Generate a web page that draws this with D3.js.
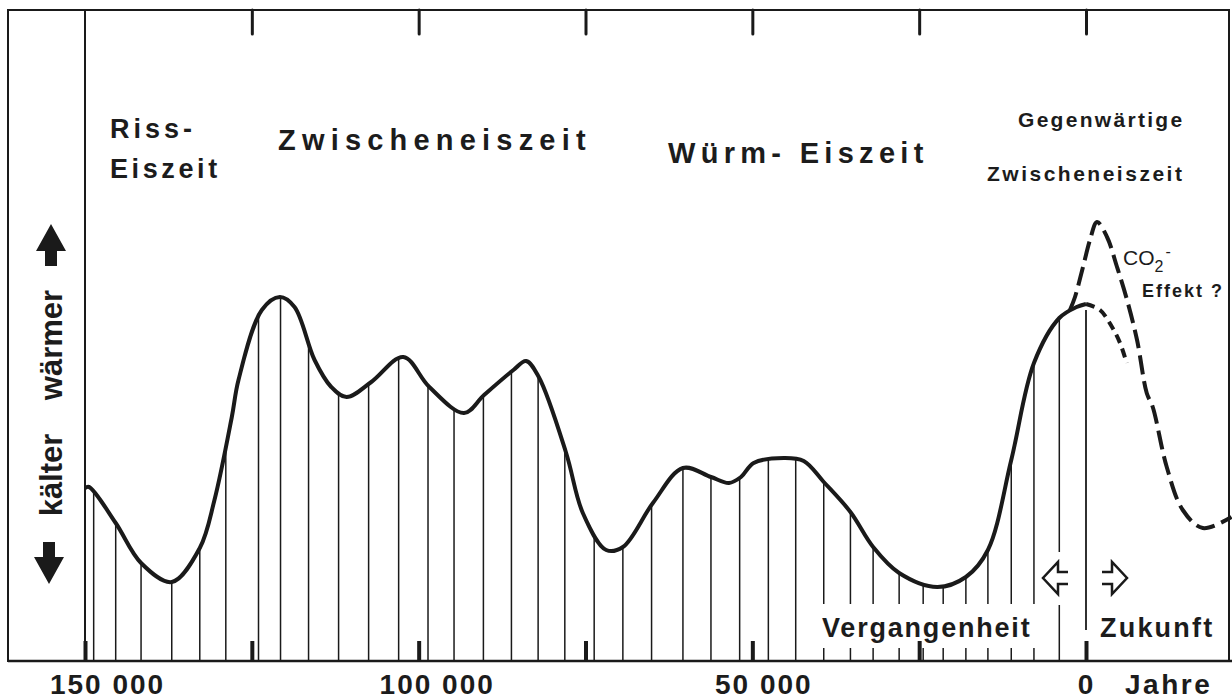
<!DOCTYPE html>
<html>
<head>
<meta charset="utf-8">
<script src="https://cdn.jsdelivr.net/npm/d3@7"></script>
<style>
  body { margin: 0; background: #fff; }
  svg { display: block; font-family: "Liberation Sans", Arial, sans-serif; }
  text { fill: #1c1c1c; }
</style>
</head>
<body>
<div id="chart"></div>
<script>
// Temperature curve: years before present, relative warmth (0-100)
var pastYears = [150000, 149400, 145400, 141600, 137000, 132800, 130600, 128000, 127000, 123500,
  120800, 118600, 115600, 113100, 110800, 107100, 102300, 98400, 93200, 90200,
  85800, 83900, 82000, 77900, 75400, 71900, 69400, 64900, 60400, 56200,
  53500, 51700, 49800, 45300, 42300, 39300, 35300, 31900, 28000, 22300,
  18000, 14700, 11200, 7800, 4000, 1400, 0];
var pastTemp = [34.4, 34.6, 27.4, 19.4, 15.6, 22.4, 32, 48.6, 56, 70,
  72.6, 70.6, 60, 54.6, 52.6, 55.6, 60.6, 54.6, 49.4, 53,
  58, 59.8, 56.6, 41.4, 29.4, 22, 22.6, 31.4, 38.4, 36.6,
  35.4, 36.6, 39.4, 40.4, 39.8, 35.6, 29.6, 22.6, 17.4, 14.6,
  16.6, 22, 40, 59.4, 68.4, 70.6, 71.2];

// future (negative years): natural trend (short dashes) and CO2 effect (long dashes)
var naturalYears = [0, -2100, -3900, -5100, -6100];
var naturalTemp = [71.2, 70, 66.6, 63.4, 59.4];
var co2Years = [2400, 1650, 450, -600, -1650, -3150, -4650, -6150, -7650, -9100,
  -10000, -12100, -14500, -17500, -21800];
var co2Temp = [70, 72.6, 78.6, 84, 87.6, 84.6, 78.6, 72, 64, 53.4,
  50.6, 38.6, 30, 26.4, 28.6];

// vertical hatching under the curve
var hatchYears = [148700, 145400, 141600, 137000, 132800, 128900, 124000, 120700, 116500, 112000,
  107500, 103000, 98600, 94700, 90300, 86100, 82100, 78100, 73700, 69400,
  65100, 60400, 56200, 51900, 47600, 43500, 39300, 35300, 31900, 28000,
  24400, 21400, 18000, 14700, 11200, 7800, 4000];

var majorTickYears = [150000, 125000, 100000, 75000, 50000, 25000, 0];
var topTickYears = [125000, 100000, 75000, 50000, 25000, 0];
var labelYears = [150000, 100000, 50000, 0];
var labelTexts = ["150 000", "100 000", "50 000", "0"];

var width = 1232, height = 700;
var frame = { left: 8, top: 10, right: 1229, bottom: 661 };
var ink = "#1a1a1a";

var x = d3.scaleLinear().domain([150000, 0]).range([85, 1086]);
var y = d3.scaleLinear().domain([0, 100]).range([660, 160]);

var svg = d3.select("#chart").append("svg")
  .attr("width", width)
  .attr("height", height);

function zip(xs, ys) {
  return xs.map(function(d, i) { return [d, ys[i]]; });
}

var line = d3.line()
  .x(function(d) { return x(d[0]); })
  .y(function(d) { return y(d[1]); })
  .curve(d3.curveCatmullRom.alpha(0.5));

// layers, bottom to top
var hatchG = svg.append("g");
var maskG = svg.append("g");
var frameG = svg.append("g");
var curveG = svg.append("g");
var textG = svg.append("g");

/** curves **/

var solid = curveG.append("path")
  .attr("d", line(zip(pastYears, pastTemp)))
  .attr("fill", "none")
  .attr("stroke", ink)
  .attr("stroke-width", 4)
  .attr("stroke-linejoin", "round");

curveG.append("path")
  .attr("d", line(zip(naturalYears, naturalTemp)))
  .attr("fill", "none")
  .attr("stroke", ink)
  .attr("stroke-width", 4)
  .attr("stroke-dasharray", "9,6");

curveG.append("path")
  .attr("d", line(zip(co2Years, co2Temp)))
  .attr("fill", "none")
  .attr("stroke", ink)
  .attr("stroke-width", 4)
  .attr("stroke-dasharray", "19,7");

// sample the solid curve so the hatching stops right on it
var node = solid.node();
var total = node.getTotalLength();
var samples = d3.range(0, total, 0.5).map(function(l) { return node.getPointAtLength(l); });
function curveYAt(px) {
  return d3.least(samples, function(p) { return Math.abs(p.x - px); }).y;
}

/** hatching **/

hatchG.selectAll("line.hatch")
  .data(hatchYears)
  .join("line")
  .attr("class", "hatch")
  .attr("x1", function(d) { return x(d); })
  .attr("x2", function(d) { return x(d); })
  .attr("y1", function(d) { return curveYAt(x(d)); })
  .attr("y2", frame.bottom)
  .attr("stroke", ink)
  .attr("stroke-width", 1.5);

// the "now" line, broken just above the axis
hatchG.append("line")
  .attr("x1", x(0)).attr("x2", x(0))
  .attr("y1", curveYAt(x(0)) + 6)
  .attr("y2", 630)
  .attr("stroke", ink)
  .attr("stroke-width", 1.8);

// white gaps behind the "Vergangenheit" label and the left arrow
maskG.append("rect")
  .attr("x", 814).attr("y", 604)
  .attr("width", 232).attr("height", 44)
  .attr("fill", "#fff");
maskG.append("rect")
  .attr("x", x(4000) - 5).attr("y", 552)
  .attr("width", 10).attr("height", 53)
  .attr("fill", "#fff");

/** frame and axes **/

frameG.append("rect")
  .attr("x", frame.left).attr("y", frame.top)
  .attr("width", frame.right - frame.left)
  .attr("height", frame.bottom - frame.top)
  .attr("fill", "none")
  .attr("stroke", ink)
  .attr("stroke-width", 2);

frameG.append("line")
  .attr("x1", x(150000)).attr("x2", x(150000))
  .attr("y1", frame.top).attr("y2", frame.bottom)
  .attr("stroke", ink)
  .attr("stroke-width", 2);

frameG.append("line")
  .attr("x1", frame.left).attr("x2", width)
  .attr("y1", frame.bottom).attr("y2", frame.bottom)
  .attr("stroke", ink)
  .attr("stroke-width", 2.5);

var bottomAxis = d3.axisBottom(x)
  .tickValues(majorTickYears)
  .tickSizeInner(-20)
  .tickSizeOuter(0)
  .tickPadding(13)
  .tickFormat(function(d) {
    var i = labelYears.indexOf(d);
    return i < 0 ? "" : labelTexts[i];
  });

// the printed labels sit a little right of their ticks
var labelShift = { 150000: 22, 100000: 18, 50000: 11, 0: 0 };

var axisG = frameG.append("g")
  .attr("transform", "translate(0," + frame.bottom + ")")
  .call(bottomAxis);
axisG.select(".domain").remove();
axisG.selectAll(".tick line")
  .attr("stroke", ink)
  .attr("stroke-width", 4);
axisG.selectAll(".tick text")
  .attr("fill", ink)
  .attr("dx", function(d) { return labelShift[d] || 0; })
  .style("font-family", '"Liberation Sans", Arial, sans-serif')
  .style("font-size", "28px")
  .style("font-weight", "bold")
  .style("letter-spacing", "2px");

var topAxis = d3.axisBottom(x)
  .tickValues(topTickYears)
  .tickSizeInner(24)
  .tickSizeOuter(0)
  .tickFormat("");
var topG = frameG.append("g")
  .attr("transform", "translate(0," + frame.top + ")")
  .call(topAxis);
topG.select(".domain").remove();
topG.selectAll(".tick line")
  .attr("stroke", ink)
  .attr("stroke-width", 3)
  .attr("stroke-linecap", "round");

/** labels **/

function addText(str, px, py, size, spacing, weight) {
  return textG.append("text")
    .attr("x", px)
    .attr("y", py)
    .style("font-size", size + "px")
    .style("letter-spacing", spacing + "px")
    .style("font-weight", weight || "bold")
    .text(str);
}

addText("Riss-", 110, 138, 27, 4);
addText("Eiszeit", 110, 178, 27, 3.6);
addText("Zwischeneiszeit", 278, 150, 29, 6.2);
addText("Würm- Eiszeit", 668, 163, 29, 5.3);
addText("Gegenwärtige", 1018, 127, 21, 2.3);
addText("Zwischeneiszeit", 987, 181, 21, 2.5);
addText("Vergangenheit", 822, 637, 27, 1.8);
addText("Zukunft", 1100, 637, 27, 2.2);
addText("Jahre", 1125, 694, 28, 2.5);
addText("Effekt ?", 1142, 297, 18, 2);

var co2 = textG.append("text")
  .attr("x", 1123)
  .attr("y", 265)
  .style("font-size", "21px");
co2.append("tspan").text("CO");
co2.append("tspan").attr("dy", 7).style("font-size", "16px").text("2");
co2.append("tspan").attr("dy", -15).attr("dx", 2).style("font-size", "16px").text("-");

// rotated y labels
textG.append("text")
  .attr("transform", "translate(62,345) rotate(-90)")
  .attr("text-anchor", "middle")
  .style("font-size", "31px")
  .style("font-weight", "bold")
  .text("wärmer");
textG.append("text")
  .attr("transform", "translate(62,475) rotate(-90)")
  .attr("text-anchor", "middle")
  .style("font-size", "31px")
  .style("font-weight", "bold")
  .text("kälter");

/** arrows **/

// solid up / down arrows beside the y labels
function blockArrow(cx, tipY, dir) {
  var p = d3.path();
  var head = 27, shaft = 15, hw = 15, sw = 6;
  p.moveTo(cx, tipY);
  p.lineTo(cx + hw, tipY + dir * head);
  p.lineTo(cx + sw, tipY + dir * head);
  p.lineTo(cx + sw, tipY + dir * (head + shaft));
  p.lineTo(cx - sw, tipY + dir * (head + shaft));
  p.lineTo(cx - sw, tipY + dir * head);
  p.lineTo(cx - hw, tipY + dir * head);
  p.closePath();
  textG.append("path").attr("d", p.toString()).attr("fill", ink);
}
blockArrow(51, 224, 1);
blockArrow(49, 584, -1);

// open arrows pointing to past and future
function openArrow(tipX, cy, dir) {
  var head = 15, shaft = 10, hh = 16, sh = 6;
  var pts = [
    [tipX + dir * (head + shaft), cy - sh],
    [tipX + dir * head, cy - sh],
    [tipX + dir * head, cy - hh],
    [tipX, cy],
    [tipX + dir * head, cy + hh],
    [tipX + dir * head, cy + sh],
    [tipX + dir * (head + shaft), cy + sh]
  ];
  textG.append("path")
    .attr("d", d3.line()(pts))
    .attr("fill", "none")
    .attr("stroke", ink)
    .attr("stroke-width", 2.5)
    .attr("stroke-linejoin", "miter");
}
openArrow(1043, 578, 1);
openArrow(1127, 578, -1);
</script>
</body>
</html>
